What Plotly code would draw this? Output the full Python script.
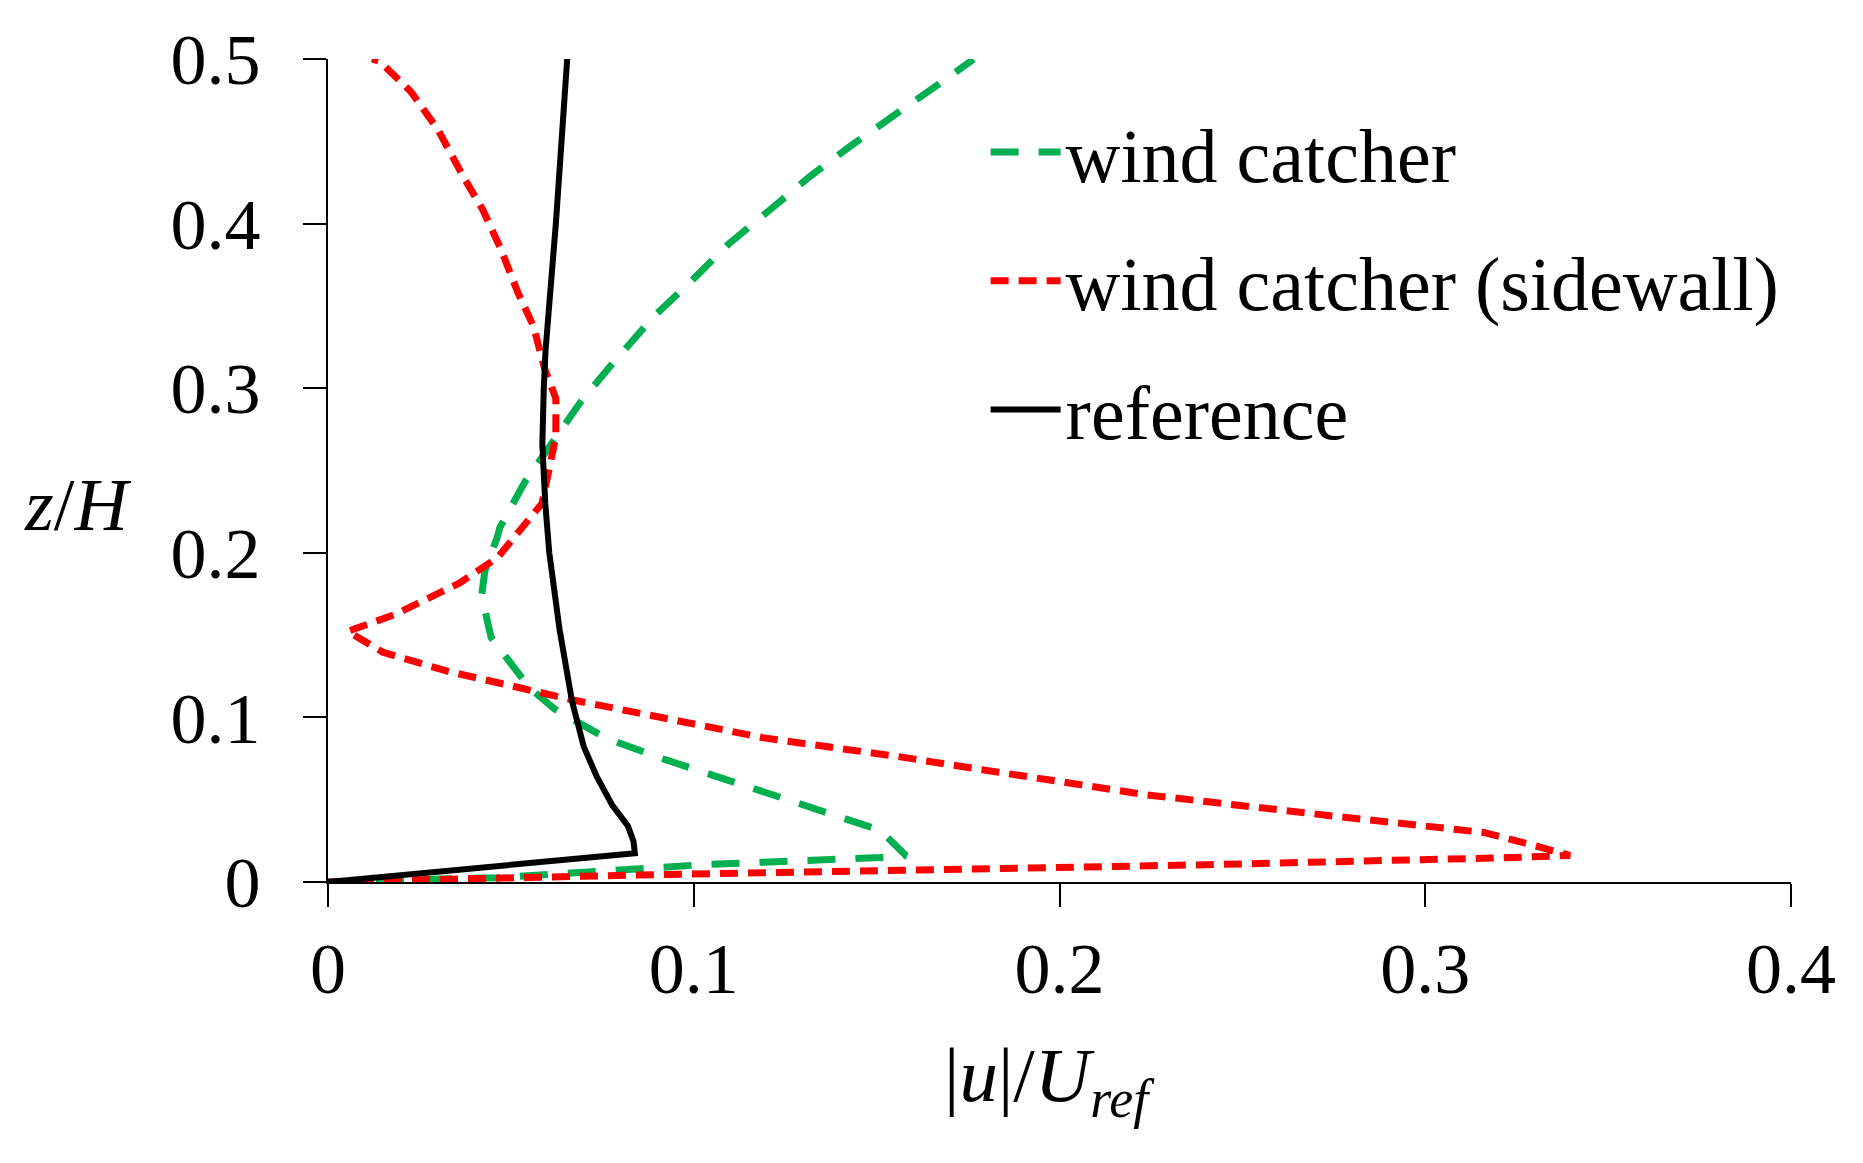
import plotly.graph_objects as go

# ---- data ----
ref_x = [0.0, 0.0839, 0.0835, 0.0820, 0.0777, 0.0734, 0.0699, 0.0667, 0.0633, 0.0605,
         0.0594, 0.0586, 0.0590, 0.0595, 0.0623, 0.0638, 0.0654]
ref_z = [0.0, 0.0175, 0.0250, 0.0340, 0.0467, 0.0645, 0.0824, 0.1100, 0.1536, 0.2000,
         0.2300, 0.2660, 0.3000, 0.3237, 0.4000, 0.4500, 0.5000]

wc_x = [0.0, 0.0463, 0.1022, 0.1370, 0.1510, 0.1580, 0.1510, 0.1196, 0.0917, 0.0760,
        0.0620, 0.0551, 0.0498, 0.0446, 0.0420, 0.0429, 0.0463, 0.0470, 0.0538, 0.0623,
        0.0690, 0.0771, 0.0890, 0.0990, 0.1095, 0.1204, 0.1318, 0.1432, 0.1551, 0.1670,
        0.1765]
wc_z = [0.0, 0.0026, 0.0105, 0.0130, 0.0149, 0.0161, 0.0314, 0.0544, 0.0747, 0.0874,
        0.1050, 0.1180, 0.1332, 0.1485, 0.1740, 0.1890, 0.2096, 0.2153, 0.2430, 0.2707,
        0.2914, 0.3132, 0.3434, 0.3644, 0.3875, 0.4076, 0.4287, 0.4477, 0.4658, 0.4848,
        0.4999]

sw_x = [0.0, 0.0080, 0.0847, 0.1720, 0.2404, 0.3245, 0.3396, 0.3312, 0.3160, 0.2740,
        0.2237, 0.1824, 0.1565, 0.1196, 0.0673, 0.0324, 0.0150, 0.0054, 0.0184, 0.0359,
        0.0463, 0.0585, 0.0623, 0.0623, 0.0592, 0.0562, 0.0519, 0.0470, 0.0422, 0.0373,
        0.0300, 0.0226, 0.0141, 0.0120]
sw_z = [0.0, 0.0005, 0.0042, 0.0072, 0.0105, 0.0149, 0.0161, 0.0213, 0.0301, 0.0403,
        0.0530, 0.0670, 0.0760, 0.0874, 0.1104, 0.1282, 0.1396, 0.1523, 0.1626, 0.1816,
        0.1969, 0.2300, 0.2706, 0.2937, 0.3120, 0.3375, 0.3582, 0.3859, 0.4089, 0.4273,
        0.4573, 0.4803, 0.4987, 0.5000]

x_ticks = [0, 0.1, 0.2, 0.3, 0.4]
x_tick_text = ["0", "0.1", "0.2", "0.3", "0.4"]
y_ticks = [0, 0.1, 0.2, 0.3, 0.4, 0.5]
y_tick_text = ["0", "0.1", "0.2", "0.3", "0.4", "0.5"]

names = ["wind catcher", "wind catcher (sidewall)", "reference"]

FONT = "Liberation Serif, Times New Roman, serif"
FS = 72

fig = go.Figure()
fig.add_trace(go.Scatter(x=wc_x, y=wc_z, mode="lines", name=names[0], legendgroup="a",
                         line=dict(color="#00B050", width=7, dash="28px,20px")))
fig.add_trace(go.Scatter(x=sw_x, y=sw_z, mode="lines", name=names[1], legendgroup="b",
                         line=dict(color="#FF0000", width=7, dash="18px,10px")))
fig.add_trace(go.Scatter(x=ref_x, y=ref_z, mode="lines", name=names[2], legendgroup="c",
                         line=dict(color="#000000", width=6)))

fig.update_layout(
    width=1863, height=1163,
    margin=dict(l=320, r=80, t=44, b=289),
    paper_bgcolor="white", plot_bgcolor="white",
    font=dict(family=FONT, size=FS, color="black"),
    showlegend=True,
    legend=dict(x=0.4495, y=0.955, xanchor="left", yanchor="top",
                font=dict(family=FONT, size=76, color="black"),
                bgcolor="rgba(0,0,0,0)", tracegroupgap=27, itemwidth=70),
    xaxis=dict(range=[0, 0.4], tickvals=x_ticks, ticktext=x_tick_text,
               showline=True, linecolor="black", linewidth=2,
               ticks="outside", ticklen=23, tickwidth=2, tickcolor="black",
               showgrid=False, zeroline=False, ticklabelstandoff=0,
               tickfont=dict(family=FONT, size=FS, color="black")),
    yaxis=dict(range=[0, 0.5], tickvals=y_ticks, ticktext=y_tick_text,
               showline=True, linecolor="black", linewidth=2,
               ticks="outside", ticklen=23, tickwidth=2, tickcolor="black",
               showgrid=False, zeroline=False, ticklabelstandoff=28,
               tickfont=dict(family=FONT, size=FS, color="black")),
    annotations=[
        dict(text="<i>z</i>/<i>H</i>", xref="paper", yref="paper", x=-0.171, y=0.458,
             xanchor="center", yanchor="middle", showarrow=False,
             font=dict(family=FONT, size=74, color="black")),
        dict(text="|<i>u</i>|/<i>U</i><sub><i>ref</i></sub>", xref="paper", yref="paper",
             x=0.4935, y=-0.241, xanchor="center", yanchor="middle", showarrow=False,
             font=dict(family=FONT, size=77, color="black")),
    ],
)

fig.write_html("out.html")
